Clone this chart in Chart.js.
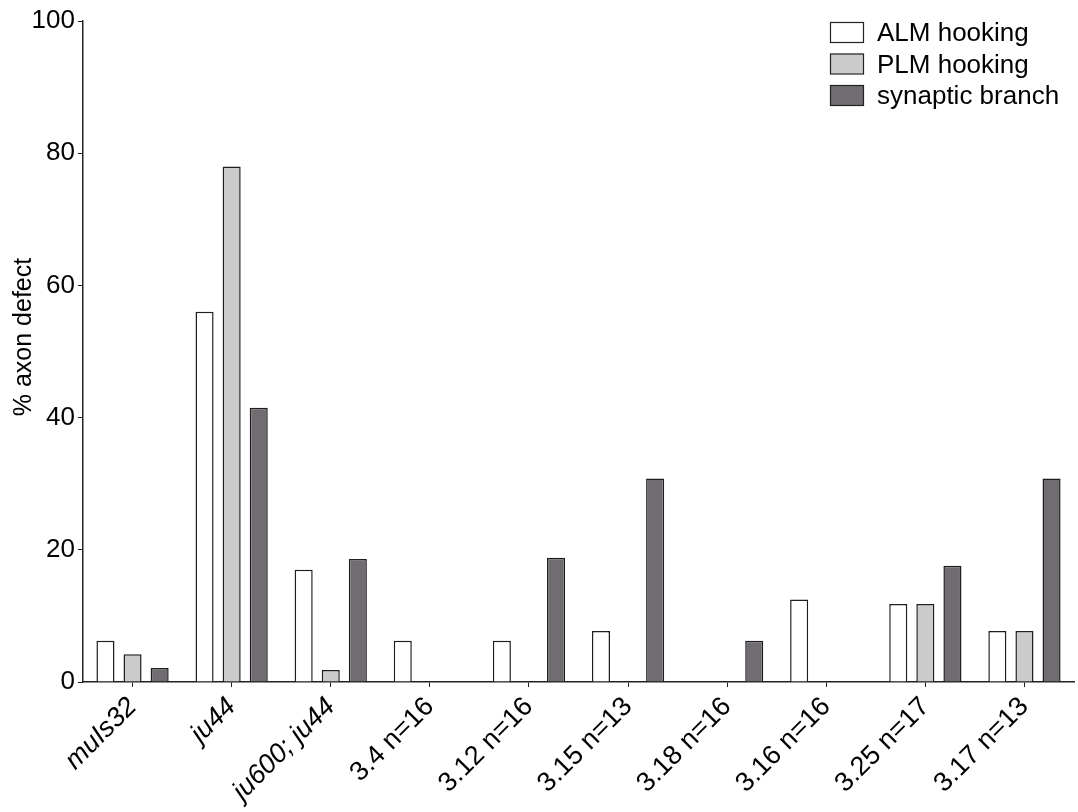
<!DOCTYPE html>
<html>
<head>
<meta charset="utf-8">
<script src="https://cdn.jsdelivr.net/npm/chart.js@4.4.1/dist/chart.umd.min.js"></script>
<style>
  html, body { margin: 0; padding: 0; background: #fff; }
  #wrap { width: 1078px; height: 812px; }
</style>
</head>
<body>
<div id="wrap"><canvas id="axonChart" width="1078" height="812"></canvas></div>
<script>
  const strains = ["muIs32", "ju44", "ju600; ju44", "3.4 n=16", "3.12 n=16", "3.15 n=13",
    "3.18 n=16", "3.16 n=16", "3.25 n=17", "3.17 n=13"];
  const almHooking = [6.25, 56, 17, 6.25, 6.25, 7.7, 0, 12.5, 11.8, 7.7];
  const plmHooking = [4.2, 78, 1.8, 0, 0, 0, 0, 0, 11.8, 7.7];
  const synapticBranch = [2.1, 41.5, 18.6, 0, 18.8, 30.8, 6.25, 0, 17.6, 30.8];
  const yTicks = [0, 20, 40, 60, 80, 100];
  const yTitle = "% axon defect";

  const seriesNames = ["ALM hooking", "PLM hooking", "synaptic branch"];
  const seriesColors = ["#ffffff", "#cbcbcb", "#716c72"];
  const italicLabels = 3;
  const fontFamily = "'Liberation Sans', Arial, sans-serif";

  // legend sits inside the plot, top right; y title drawn a bit above the axis middle
  const extras = {
    id: "extras",
    afterDraw(chart) {
      const ctx = chart.ctx;
      const x = 830, y0 = 22, step = 31.5;
      ctx.save();
      ctx.font = "26px " + fontFamily;
      ctx.textBaseline = "middle";
      chart.data.datasets.forEach((ds, i) => {
        const y = y0 + i * step;
        ctx.fillStyle = ds.backgroundColor;
        ctx.fillRect(x, y, 33, 20);
        ctx.strokeStyle = "#222";
        ctx.lineWidth = 1.2;
        ctx.strokeRect(x + 0.5, y + 0.5, 33, 20);
        ctx.fillStyle = "#000";
        ctx.fillText(ds.label, x + 47, y + 12);
      });
      ctx.restore();

      ctx.save();
      ctx.translate(24, 337);
      ctx.rotate(-Math.PI / 2);
      ctx.font = "25px " + fontFamily;
      ctx.fillStyle = "#000";
      ctx.textAlign = "center";
      ctx.textBaseline = "middle";
      ctx.fillText(yTitle, 0, 0);
      ctx.restore();
    }
  };

  const datasets = [almHooking, plmHooking, synapticBranch].map((values, i) => ({
    label: seriesNames[i],
    data: values,
    backgroundColor: seriesColors[i],
    borderColor: "#1e1e1e",
    borderWidth: 1.5,
    borderSkipped: "bottom",
    barPercentage: 0.667,
    categoryPercentage: 0.82
  }));

  new Chart(document.getElementById("axonChart").getContext("2d"), {
    type: "bar",
    data: { labels: strains, datasets },
    options: {
      responsive: false,
      animation: false,
      layout: { padding: { top: 21, right: 4, left: 0, bottom: 0 } },
      plugins: {
        legend: { display: false },
        tooltip: { enabled: false }
      },
      scales: {
        x: {
          offset: true,
          grid: { offset: false, drawOnChartArea: false, drawTicks: true, tickLength: 5, color: "#222" },
          border: { display: true, color: "#222", width: 1.5 },
          ticks: {
            color: "#000",
            minRotation: 45,
            maxRotation: 45,
            padding: 4,
            font: (c) => ({
              family: fontFamily,
              size: 27,
              style: c.index < italicLabels ? "italic" : "normal"
            })
          },
          afterFit(scale) { scale.height = 130; }
        },
        y: {
          min: 0,
          max: 100,
          afterBuildTicks(scale) { scale.ticks = yTicks.map((v) => ({ value: v })); },
          grid: { drawOnChartArea: false, drawTicks: true, tickLength: 5, color: "#222" },
          border: { display: true, color: "#222", width: 1.5 },
          ticks: {
            color: "#000",
            padding: 3,
            font: { family: fontFamily, size: 26 }
          },
          afterFit(scale) { scale.width = 83; }
        }
      }
    },
    plugins: [extras]
  });
</script>
</body>
</html>
